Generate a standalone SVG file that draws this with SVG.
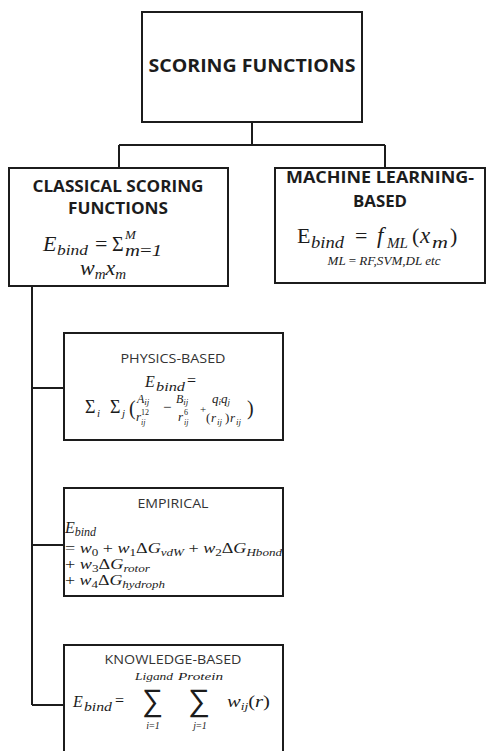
<svg xmlns="http://www.w3.org/2000/svg" width="490" height="751" viewBox="0 0 490 751">
<style>
.box{fill:#fff;stroke:#1c1c1c;stroke-width:2}
.conn{fill:none;stroke:#1c1c1c;stroke-width:2}
.t{font-family:"Open Sans","Liberation Sans",sans-serif;font-weight:700;fill:#1c1c1c}
.s{font-family:"Open Sans","Liberation Sans",sans-serif;font-weight:400;fill:#333;font-size:13px}
.m{font-family:"Liberation Serif","DejaVu Serif",serif;font-style:italic;fill:#1c1c1c}
.r{font-family:"Liberation Serif","DejaVu Serif",serif;font-style:normal;fill:#1c1c1c}
.big{font-family:"DejaVu Sans",sans-serif;font-weight:200;fill:#1c1c1c}
</style>
<rect width="490" height="751" fill="#fff"/>
<g id="connectors">
<path class="conn" d="M252 122V145M119 145H385M119 145V168M385 145V168"/>
<path class="conn" d="M32 286V705M32 388H64M32 545H64M32 705H64"/>
</g>
<g id="scoring-functions">
<rect class="box" x="142" y="12" width="220" height="110"/>
<text class="t" x="252" y="72" font-size="17" text-anchor="middle" textLength="207" lengthAdjust="spacingAndGlyphs">SCORING FUNCTIONS</text>
</g>
<g id="classical">
<rect class="box" x="9" y="168" width="219" height="118"/>
<text class="t" x="118" y="192" font-size="16" text-anchor="middle" textLength="171" lengthAdjust="spacingAndGlyphs">CLASSICAL SCORING</text>
<text class="t" x="118" y="214" font-size="16" text-anchor="middle" textLength="100" lengthAdjust="spacingAndGlyphs">FUNCTIONS</text>
<text class="m" x="43" y="251" font-size="22">E</text>
<text class="m" x="57" y="255" font-size="15" textLength="31" lengthAdjust="spacingAndGlyphs">bind</text>
<text class="r" x="95" y="251" font-size="22">=</text>
<text class="r" x="112" y="251" font-size="20">Σ</text>
<text class="m" x="125" y="239" font-size="13">M</text>
<text class="m" x="125" y="256" font-size="16" textLength="37" lengthAdjust="spacingAndGlyphs">m<tspan class="r">=</tspan>1</text>
<text class="m" x="80" y="275" font-size="22">w<tspan font-size="15" dy="4">m</tspan><tspan dy="-4">x</tspan><tspan font-size="15" dy="4">m</tspan></text>
</g>
<g id="machine-learning">
<rect class="box" x="275" y="168" width="210" height="115"/>
<text class="t" x="380" y="183" font-size="16" text-anchor="middle" textLength="188" lengthAdjust="spacingAndGlyphs">MACHINE LEARNING-</text>
<text class="t" x="380" y="207" font-size="16" text-anchor="middle" textLength="54" lengthAdjust="spacingAndGlyphs">BASED</text>
<text class="r" x="297" y="243" font-size="22">E</text>
<text class="m" x="311" y="248" font-size="16" textLength="33" lengthAdjust="spacingAndGlyphs">bind</text>
<text class="r" x="355" y="243" font-size="22">=</text>
<text class="m" x="377" y="243" font-size="23">f</text>
<text class="m" x="387" y="248" font-size="15" textLength="21" lengthAdjust="spacingAndGlyphs">ML</text>
<text class="r" x="412" y="243" font-size="22">(</text>
<text class="m" x="420" y="243" font-size="23">x</text>
<text class="m" x="432" y="248" font-size="16" textLength="16" lengthAdjust="spacingAndGlyphs">m</text>
<text class="r" x="450" y="243" font-size="22">)</text>
<text class="m" x="384" y="265" font-size="13" text-anchor="middle" textLength="113" lengthAdjust="spacingAndGlyphs">ML <tspan class="r">=</tspan> RF,SVM,DL etc</text>
</g>
<g id="physics-based">
<rect class="box" x="64" y="333" width="219" height="107"/>
<text class="s" x="173" y="363" text-anchor="middle" textLength="105" lengthAdjust="spacingAndGlyphs">PHYSICS-BASED</text>
<text class="m" x="145" y="387" font-size="16">E</text>
<text class="m" x="156" y="391" font-size="12" textLength="29" lengthAdjust="spacingAndGlyphs">bind</text>
<text class="r" x="187" y="386" font-size="16">=</text>
<text class="r" x="85" y="413" font-size="18">Σ</text>
<text class="m" x="97" y="417" font-size="11">i</text>
<text class="r" x="110" y="413" font-size="18">Σ</text>
<text class="m" x="122" y="417" font-size="11">j</text>
<text class="r" x="129" y="415" font-size="20">(</text>
<text class="m" x="137" y="403" font-size="12">A<tspan font-size="9" dy="2">ij</tspan></text>
<text class="m" x="136" y="421" font-size="13">r</text>
<text class="r" x="141" y="415" font-size="8">12</text>
<text class="m" x="141" y="425" font-size="8">ij</text>
<text class="r" x="163" y="412" font-size="15">−</text>
<text class="m" x="176" y="403" font-size="12">B<tspan font-size="9" dy="2">ij</tspan></text>
<text class="m" x="178" y="421" font-size="13">r</text>
<text class="r" x="184" y="415" font-size="8">6</text>
<text class="m" x="184" y="425" font-size="8">ij</text>
<text class="r" x="200" y="413" font-size="11">+</text>
<text class="m" x="212" y="403" font-size="13">q<tspan font-size="9" dy="2">i</tspan><tspan dy="-2">q</tspan><tspan font-size="9" dy="2">j</tspan></text>
<text class="r" x="206" y="422" font-size="13">(</text>
<text class="m" x="211" y="422" font-size="13">r</text>
<text class="m" x="217" y="425" font-size="9">ij</text>
<text class="r" x="225" y="422" font-size="13">)</text>
<text class="m" x="230" y="422" font-size="13">r</text>
<text class="m" x="236" y="425" font-size="9">ij</text>
<text class="r" x="247" y="415" font-size="20">)</text>
</g>
<g id="empirical">
<rect class="box" x="64" y="488" width="219" height="108"/>
<text class="s" x="173" y="508" text-anchor="middle" textLength="71" lengthAdjust="spacingAndGlyphs">EMPIRICAL</text>
<text class="m" x="65" y="533" font-size="16">E<tspan font-size="12" dy="3">bind</tspan></text>
<text class="m" x="65" y="553" font-size="14.5" textLength="217" lengthAdjust="spacingAndGlyphs"><tspan class="r">= </tspan>w<tspan font-size="10.5" class="r" dy="3">0</tspan><tspan class="r" dy="-3"> + </tspan>w<tspan font-size="10.5" class="r" dy="3">1</tspan><tspan class="r" dy="-3">Δ</tspan>G<tspan font-size="10.5" dy="3">vdW</tspan><tspan class="r" dy="-3"> + </tspan>w<tspan font-size="10.5" class="r" dy="3">2</tspan><tspan class="r" dy="-3">Δ</tspan>G<tspan font-size="10.5" dy="3">Hbond</tspan></text>
<text class="m" x="65" y="569" font-size="14.5" textLength="85" lengthAdjust="spacingAndGlyphs"><tspan class="r">+ </tspan>w<tspan font-size="10.5" class="r" dy="3">3</tspan><tspan class="r" dy="-3">Δ</tspan>G<tspan font-size="10.5" dy="3">rotor</tspan></text>
<text class="m" x="65" y="585" font-size="14.5" textLength="100" lengthAdjust="spacingAndGlyphs"><tspan class="r">+ </tspan>w<tspan font-size="10.5" class="r" dy="3">4</tspan><tspan class="r" dy="-3">Δ</tspan>G<tspan font-size="10.5" dy="3">hydroph</tspan></text>
</g>
<g id="knowledge-based">
<rect class="box" x="64" y="645" width="219" height="120"/>
<text class="s" x="173" y="664" text-anchor="middle" textLength="137" lengthAdjust="spacingAndGlyphs">KNOWLEDGE-BASED</text>
<text class="m" x="135" y="680" font-size="10" textLength="38" lengthAdjust="spacingAndGlyphs">Ligand</text>
<text class="m" x="178" y="680" font-size="10" textLength="45" lengthAdjust="spacingAndGlyphs">Protein</text>
<text class="m" x="73" y="707" font-size="16">E</text>
<text class="m" x="84" y="711" font-size="12" textLength="28" lengthAdjust="spacingAndGlyphs">bind</text>
<text class="r" x="115" y="706" font-size="16">=</text>
<text class="big" x="142" y="711" font-size="31" textLength="21" lengthAdjust="spacingAndGlyphs">∑</text>
<text class="big" x="188" y="711" font-size="31" textLength="22" lengthAdjust="spacingAndGlyphs">∑</text>
<text class="m" x="153" y="729" font-size="10" text-anchor="middle">i<tspan class="r">=</tspan>1</text>
<text class="m" x="200" y="729" font-size="10" text-anchor="middle">j<tspan class="r">=</tspan>1</text>
<text class="m" x="227" y="707" font-size="17" textLength="43" lengthAdjust="spacingAndGlyphs">w<tspan font-size="11" dy="3">ij</tspan><tspan class="r" dy="-3">(</tspan>r<tspan class="r">)</tspan></text>
</g>
</svg>
